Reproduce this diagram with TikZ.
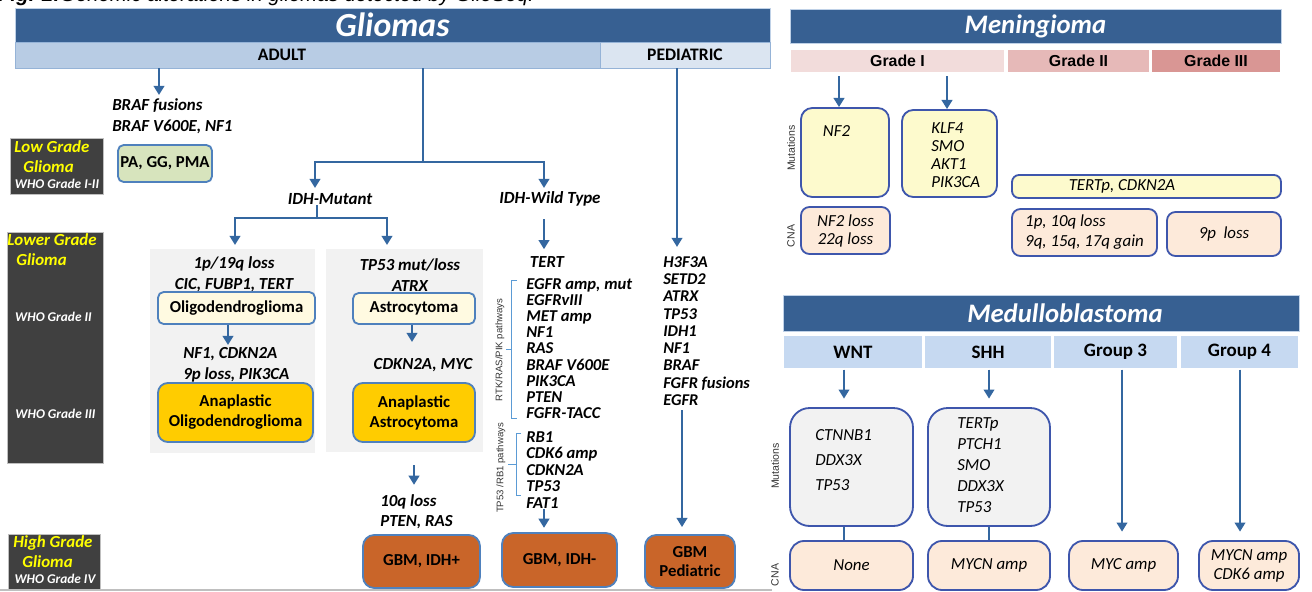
\documentclass[tikz,border=0pt]{standalone}
\usepackage{fontspec}
\setmainfont{Carlito}
\newfontfamily\arialfont{Liberation Sans}
\usetikzlibrary{arrows.meta}
\definecolor{hdrBlue}{RGB}{55,96,146}
\definecolor{adultBlue}{RGB}{184,204,228}
\definecolor{pedBlue}{RGB}{219,229,241}
\definecolor{barEdge}{RGB}{149,179,215}
\definecolor{arrowBlue}{RGB}{52,103,160}
\definecolor{boxEdge}{RGB}{79,129,189}
\definecolor{paGreen}{RGB}{215,228,189}
\definecolor{oligoBg}{RGB}{255,250,225}
\definecolor{anaGold}{RGB}{255,204,0}
\definecolor{gbmBrown}{RGB}{201,101,41}
\definecolor{panelGray}{RGB}{242,242,242}
\definecolor{gradeDark}{RGB}{64,64,64}
\definecolor{gradeYellow}{RGB}{255,255,0}
\definecolor{mgOne}{RGB}{242,220,219}
\definecolor{mgTwo}{RGB}{230,185,184}
\definecolor{mgThree}{RGB}{217,150,148}
\definecolor{mutYellow}{RGB}{253,250,205}
\definecolor{cnaPeach}{RGB}{253,234,218}
\definecolor{rightEdge}{RGB}{62,86,172}
\definecolor{mbBar}{RGB}{198,217,241}
\definecolor{braceBlue}{RGB}{91,155,213}

\begin{document}
\begin{tikzpicture}[x=0.025cm, y=-0.025cm,
    sz/.style 2 args={minimum width=#1*0.025cm, minimum height=#2*0.025cm},
    hdr/.style={fill=hdrBlue, draw=barEdge!60, line width=0.6pt, inner sep=0pt, text=white, font=\bfseries\itshape\fontsize{19}{20}\selectfont},
    bar/.style={draw=barEdge, line width=0.6pt, inner sep=0pt, font=\bfseries\fontsize{12.5}{14}\selectfont},
    arr/.style={arrowBlue, line width=2pt, -{Triangle[width=7.5pt,length=6.5pt]}},
    link/.style={arrowBlue, line width=2pt},
    gbox/.style={draw=boxEdge, line width=1.3pt, rounded corners=4pt, inner sep=0pt, align=center, font=\bfseries\fontsize{11.9}{14.2}\selectfont},
    gene/.style={inner sep=0pt, align=left, font=\bfseries\itshape\fontsize{12}{15}\selectfont},
    idh/.style={inner sep=0pt, font=\bfseries\itshape\fontsize{12.1}{14}\selectfont},
    grade/.style={fill=gradeDark, draw=black!25, line width=0.6pt, inner sep=0pt},
    gradetop/.style={anchor=west, text=gradeYellow, inner sep=0pt, font=\bfseries\itshape\fontsize{12}{14}\selectfont},
    gradewho/.style={text=white, inner sep=0pt, font=\bfseries\itshape\fontsize{9.5}{10}\selectfont},
    side/.style={rotate=90, inner sep=0pt, text=black!80, font=\arialfont\fontsize{7.5}{8}\selectfont},
    brace/.style={braceBlue, line width=0.6pt},
    rbox/.style={draw=rightEdge, line width=1.3pt, inner sep=0pt, align=center, font=\itshape\fontsize{12}{12.8}\selectfont},
    rtext/.style={inner sep=0pt, align=left, font=\itshape\fontsize{12}{12.8}\selectfont},
    mgbar/.style={draw=white, line width=0.8pt, inner sep=0pt, font=\arialfont\bfseries\fontsize{11.3}{12}\selectfont},
    mbbar/.style={fill=mbBar, draw=white, line width=0.8pt, inner sep=0pt, font=\bfseries\fontsize{13.5}{14}\selectfont},
  ]
  \useasboundingbox (0,0) rectangle (1312,591);
  \node[anchor=base west, inner sep=0pt, font=\arialfont\itshape\fontsize{14.5}{15}\selectfont] (caption) at (-2,2) {\textbf{Fig. 2:}Genomic alterations in gliomas detected by GlioSeq.};

  % gliomas
  \node[hdr, sz={755}{34}, font=\bfseries\itshape\fontsize{24}{24}\selectfont] (glio) at (392.5,25) {Gliomas};
  \node[bar, fill=adultBlue, sz={585}{26}] (adult) at (307.5,55) {};
  \node[inner sep=0pt, font=\bfseries\fontsize{12.5}{14}\selectfont] (adultt) at (282,55) {ADULT};
  \node[bar, fill=pedBlue, sz={170}{26}] (ped) at (685,55) {PEDIATRIC};

  \node[grade, sz={93}{56}] (low) at (56.5,166) {};
  \node[gradetop] (lowa) at (14,147) {Low Grade};
  \node[gradetop] (lowb) at (23,167) {Glioma};
  \node[gradewho] (lowc) at (57,184) {WHO Grade I-II};
  \node[grade, sz={96}{231}] (lower) at (55,347.5) {};
  \node[gradetop] (lowera) at (7,240) {Lower Grade};
  \node[gradetop] (lowerb) at (16,260) {Glioma};
  \node[gradewho] (lowerc) at (53.5,317) {WHO Grade II};
  \node[gradewho] (lowerd) at (55.5,414) {WHO Grade III};
  \node[grade, sz={92}{56}] (high) at (54,562) {};
  \node[gradetop] (higha) at (13,543) {High Grade};
  \node[gradetop] (highb) at (22,562) {Glioma};
  \node[gradewho] (highc) at (55,579) {WHO Grade IV};

  \node[gene, anchor=west] (braf) at (112,116.5) {BRAF fusions\\BRAF V600E, NF1};
  \node[gbox, fill=paGreen, sz={94}{37}] (pa) at (165,163.5) {PA, GG, PMA};
  \coordinate (brafIn) at (159,95);
  \draw[arr] (adult.south -| brafIn) -- (brafIn);

  \node[idh] (mut) at (330,199) {IDH-Mutant};
  \node[idh] (wt) at (550,199) {IDH-Wild Type};
  \coordinate (split) at (423,162);
  \coordinate (mutIn) at (315,188);
  \coordinate (wtIn) at (544,188);
  \draw[link] (adult.south -| split) -- (split);
  \draw[arr] (split) -| (mutIn);
  \draw[arr] (split) -| (wtIn);

  \fill[panelGray] (150,249) rectangle (315,453);
  \fill[panelGray] (326,249) rectangle (483,452);
  \coordinate (mutSplit) at (317,218);
  \coordinate (oligoIn) at (235,245);
  \coordinate (astroIn) at (387,245);
  \draw[link] (mut.south -| mutSplit) -- (mutSplit);
  \draw[arr] (mutSplit) -| (oligoIn);
  \draw[arr] (mutSplit) -| (astroIn);

  \node[gene, align=center] (codel) at (234,274.5) {1p/19q loss\\CIC, FUBP1, TERT};
  \node[gbox, fill=oligoBg, sz={157}{32}] (oligo) at (236.5,308) {Oligodendroglioma};
  \node[gene, anchor=west] (oligoMut) at (183,364.5) {NF1, CDKN2A\\9p loss, PIK3CA};
  \node[gbox, fill=anaGold, sz={155}{59}, rounded corners=7pt] (anaOligo) at (235.5,412.5) {Anaplastic\\Oligodendroglioma};
  \coordinate (oligoOut) at (228,345);
  \draw[arr] (oligo.south -| oligoOut) -- (oligoOut);

  \node[gene, align=center] (tp53) at (410,275) {TP53 mut/loss\\ATRX};
  \node[gbox, fill=oligoBg, sz={122}{31}] (astro) at (414,308.5) {Astrocytoma};
  \node[gene] (astroMut) at (423,365) {CDKN2A, MYC};
  \node[gbox, fill=anaGold, sz={122}{59}, rounded corners=7pt] (anaAstro) at (414,412.5) {Anaplastic\\Astrocytoma};
  \coordinate (astroOut) at (412,342);
  \draw[arr] (astro.south -| astroOut) -- (astroOut);

  \node[gene, anchor=west, font=\bfseries\itshape\fontsize{12}{14.2}\selectfont] (loss10) at (380,512) {10q loss\\PTEN, RAS};
  \node[gbox, fill=gbmBrown, sz={117}{53}, rounded corners=8pt] (gbmp) at (421.5,561.5) {GBM, IDH+};
  \draw[arr, shorten <=16pt, shorten >=7pt] (anaAstro.south) -- (anaAstro.south |- loss10.north);

  % IDH wild type
  \coordinate (wtCol) at (544,230);
  \node[gene] (tert) at (547,262) {TERT};
  \draw[arr, shorten <=9pt, shorten >=5pt] (wt.south -| wtCol) -- (tert.north -| wtCol);
  \node[gene, anchor=west, font=\bfseries\itshape\fontsize{11.8}{11.5}\selectfont] (rtk) at (526,348.5) {EGFR amp, mut\\EGFRvIII\\MET amp\\NF1\\RAS\\BRAF V600E\\PIK3CA\\PTEN\\FGFR-TACC};
  \node[gene, anchor=west, font=\bfseries\itshape\fontsize{11.8}{11.7}\selectfont] (rbone) at (526,470) {RB1\\CDK6 amp\\CDKN2A\\TP53\\FAT1};
  \draw[brace] (517,280) -- (511,280) -- (511,418) -- (517,418) (511,349) -- (506,349);
  \draw[brace] (521,433) -- (516,433) -- (516,495) -- (521,495) (516,464) -- (508,464);
  \node[side, font=\arialfont\fontsize{6.8}{7}\selectfont] (rtkl) at (500,350) {RTK/RAS/PIK  pathways};
  \node[side, font=\arialfont\fontsize{6.8}{7}\selectfont] (rbl) at (501,468) {TP53 /RB1 pathways};
  \node[gbox, fill=gbmBrown, sz={115}{54}, rounded corners=8pt] (gbmm) at (559.5,560) {GBM, IDH-};
  \draw[arr, shorten >=3pt] (rbone.south -| wtCol) -- (gbmm.north -| wtCol);

  % pediatric
  \coordinate (pedCol) at (677,150);
  \coordinate (pedCol2) at (682,470);
  \node[gene, anchor=west, font=\bfseries\itshape\fontsize{11.7}{12.3}\selectfont] (pedList) at (663,331) {H3F3A\\SETD2\\ATRX\\TP53\\IDH1\\NF1\\BRAF\\FGFR fusions\\EGFR};
  \node[gbox, fill=gbmBrown, sz={90}{53}, rounded corners=8pt, font=\bfseries\fontsize{11.9}{13.5}\selectfont] (gbmped) at (690,561.5) {GBM\\Pediatric};
  \draw[arr, shorten >=6.5pt] (ped.south -| pedCol) -- (pedCol |- pedList.north);
  \draw[arr, shorten <=3pt, shorten >=5pt] (pedList.south -| pedCol2) -- (gbmped.north -| pedCol2);

  \draw[black!25, line width=0.8pt] (0,590) -- (772,590);

  % meningioma
  \node[hdr, sz={491}{34}] (meni) at (1035.5,26) {Meningioma};
  \node[mgbar, fill=mgOne, sz={215}{24}] (gI) at (897.5,61) {Grade I};
  \node[mgbar, fill=mgTwo, sz={143}{24}] (gII) at (1078.5,61) {Grade II};
  \node[mgbar, fill=mgThree, sz={130}{24}] (gIII) at (1216,61) {Grade III};
  \node[rbox, fill=mutYellow, sz={88}{89}, rounded corners=8pt] (nf2) at (845,152.5) {};
  \node[rtext] (nf2t) at (836.5,131) {NF2};
  \node[rbox, fill=mutYellow, sz={95}{87}, rounded corners=8pt] (klf) at (949.5,153.5) {};
  \node[rtext, anchor=west] (klft) at (931,155) {KLF4\\SMO\\AKT1\\PIK3CA};
  \coordinate (nf2Col) at (839,90);
  \coordinate (klfCol) at (947,90);
  \draw[arr, shorten <=2pt] (gI.south -| nf2Col) -- (nf2.north -| nf2Col);
  \draw[arr, shorten <=2pt] (gI.south -| klfCol) -- (klf.north -| klfCol);
  \node[rbox, fill=mutYellow, sz={269}{23}, rounded corners=5pt] (tertp) at (1146.5,186.5) {};
  \node[rtext] (tertpt) at (1122,186.5) {TERTp, CDKN2A};
  \node[rbox, fill=cnaPeach, sz={89}{47}, rounded corners=6pt] (nf2loss) at (845.5,230.5) {NF2 loss\\22q loss};
  \node[rbox, fill=cnaPeach, sz={145}{47}, rounded corners=6pt, align=left, font=\itshape\fontsize{12}{14.2}\selectfont] (onep) at (1084.5,232.5) {1p, 10q loss\\9q, 15q, 17q gain};
  \node[rbox, fill=cnaPeach, sz={114}{44}, rounded corners=6pt] (ninep) at (1224,234) {9p\ \ loss};
  \node[side] (mgMut) at (791,148) {Mutations};
  \node[side] (mgCna) at (791,236) {CNA};

  % medulloblastoma
  \node[hdr, sz={516}{36}] (medu) at (1041,313) {};
  \node[inner sep=0pt, text=white, font=\bfseries\itshape\fontsize{19}{20}\selectfont] (medut) at (1065,313) {Medulloblastoma};
  \node[mbbar, sz={140}{34}] (wnt) at (853,352) {WNT};
  \node[mbbar, sz={128}{34}] (shh) at (988,352) {SHH};
  \node[mbbar, sz={125}{34}] (gthree) at (1115.5,352) {Group 3};
  \node[mbbar, sz={119}{34}] (gfour) at (1239.5,352) {Group 4};
  \node[rbox, fill=panelGray, sz={123}{118}, rounded corners=14pt] (wntMut) at (851.5,467) {};
  \node[rtext, anchor=west, font=\itshape\fontsize{12}{17.8}\selectfont] (wntMutt) at (815,460) {CTNNB1\\DDX3X\\TP53};
  \node[rbox, fill=panelGray, sz={122}{118}, rounded corners=14pt] (shhMut) at (989,467) {};
  \node[rtext, anchor=west, font=\itshape\fontsize{12}{14.9}\selectfont] (shhMutt) at (957,465) {TERTp\\PTCH1\\SMO\\DDX3X\\TP53};
  \node[rbox, fill=cnaPeach, sz={123}{49}, rounded corners=10pt] (wntCna) at (851.5,565.5) {None};
  \node[rbox, fill=cnaPeach, sz={122}{49}, rounded corners=10pt] (shhCna) at (989,565.5) {MYCN amp};
  \node[rbox, fill=cnaPeach, sz={109}{49}, rounded corners=10pt] (gthreeCna) at (1123.5,565.5) {MYC amp};
  \node[rbox, fill=cnaPeach, sz={100}{49}, rounded corners=10pt, font=\itshape\fontsize{12}{13.5}\selectfont] (gfourCna) at (1249,565.5) {MYCN amp\\CDK6 amp};
  \coordinate (wntCol) at (844,450);
  \coordinate (shhCol) at (989,450);
  \coordinate (gthreeCol) at (1122,450);
  \coordinate (gfourCol) at (1240,450);
  \draw[arr, shorten >=6pt] (wnt.south -| wntCol) -- (wntMut.north -| wntCol);
  \draw[arr, shorten >=6pt] (shh.south -| shhCol) -- (shhMut.north -| shhCol);
  \draw[arr, shorten >=6pt] (gthree.south -| gthreeCol) -- (gthreeCna.north -| gthreeCol);
  \draw[arr, shorten >=6pt] (gfour.south -| gfourCol) -- (gfourCna.north -| gfourCol);
  \draw[link] (wntMut.south -| wntCol) -- (wntCna.north -| wntCol);
  \draw[link] (shhMut.south -| shhCol) -- (shhCna.north -| shhCol);
  \node[side] (mbMut) at (775,466) {Mutations};
  \node[side] (mbCna) at (775,575) {CNA};
\end{tikzpicture}
\end{document}
